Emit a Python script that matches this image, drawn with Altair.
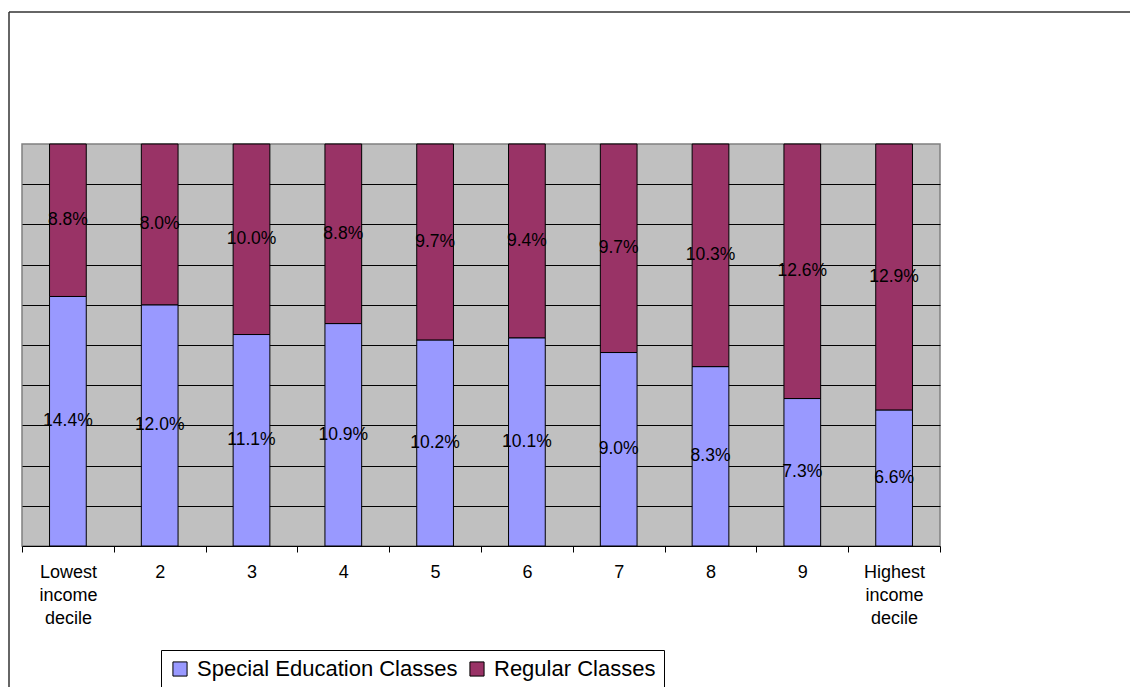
import altair as alt
import pandas as pd

deciles = ["Lowest|income|decile", "2", "3", "4", "5", "6", "7", "8", "9", "Highest|income|decile"]
special_ed = [14.4, 12.0, 11.1, 10.9, 10.2, 10.1, 9.0, 8.3, 7.3, 6.6]
regular = [8.8, 8.0, 10.0, 8.8, 9.7, 9.4, 9.7, 10.3, 12.6, 12.9]
series = ["Special Education Classes", "Regular Classes"]
colors = ["#9999FF", "#993366"]

rows = []
for i, d in enumerate(deciles):
    rows.append({"decile": d, "series": series[0], "order": 0, "value": special_ed[i]})
    rows.append({"decile": d, "series": series[1], "order": 1, "value": regular[i]})
df = pd.DataFrame(rows)

FONT = "Liberation Sans"

base = alt.Chart(df).transform_stack(
    stack="value", groupby=["decile"], as_=["y0", "y1"],
    offset="normalize", sort=[alt.SortField("order", order="ascending")]
).transform_calculate(
    mid="(datum.y0 + datum.y1) / 2",
    label="format(datum.value, '.1f') + '%'"
)

x_enc = alt.X(
    "decile:N", sort=deciles, title=None,
    scale=alt.Scale(paddingInner=0, paddingOuter=0),
    axis=alt.Axis(
        labelAngle=0, labelExpr="split(datum.label, '|')",
        labelFont=FONT, labelFontSize=18, labelColor="black",
        labelLineHeight=23, labelPadding=11, labelBaseline="top",
        tickBand="extent", tickColor="black", tickSize=6,
        domainColor="black", domainWidth=1, grid=False,
    ),
)

bars = base.mark_bar(stroke="black", strokeWidth=1,
                     width=alt.RelativeBandSize(0.4)).encode(
    x=x_enc,
    y=alt.Y("y0:Q", title=None, scale=alt.Scale(domain=[0, 1], nice=False),
            axis=alt.Axis(values=[0.1, 0.2, 0.3, 0.4, 0.5, 0.6, 0.7, 0.8, 0.9],
                          labels=False, ticks=False, domain=False, grid=True,
                          gridColor="black", gridWidth=1, gridOpacity=1)),
    y2="y1:Q",
    color=alt.Color("series:N", title=None,
                    scale=alt.Scale(domain=series, range=colors),
                    legend=alt.Legend(orient="none", legendX=139, legendY=506,
                                      direction="horizontal",
                                      symbolType="square", symbolSize=200,
                                      symbolStrokeColor="black", symbolStrokeWidth=1,
                                      labelFont=FONT, labelFontSize=22,
                                      labelColor="black", labelLimit=0,
                                      labelOffset=6, columnPadding=8,
                                      padding=8, strokeColor="black",
                                      fillColor="white")),
)

labels = base.mark_text(font=FONT, fontSize=17.5, color="black").encode(
    x=alt.X("decile:N", sort=deciles),
    y=alt.Y("mid:Q"),
    text="label:N",
)

# outer frame (top and left edges)
frame_top = alt.Chart(pd.DataFrame({"k": [0]})).mark_rule(
    color="#333333", strokeWidth=1.5).encode(
    x=alt.value(-13), x2=alt.value(1120), y=alt.value(-132))
frame_left = alt.Chart(pd.DataFrame({"k": [0]})).mark_rule(
    color="#333333", strokeWidth=1.5).encode(
    x=alt.value(-13), y=alt.value(-132), y2=alt.value(560))

chart = alt.layer(bars, labels, frame_top, frame_left).properties(
    width=918, height=402,
    autosize=alt.AutoSizeParams(type="none"),
    padding={"left": 22, "top": 144, "right": 190, "bottom": 141},
    background="white",
).configure_view(
    fill="#C0C0C0", stroke="#808080", strokeWidth=1.5
)

chart.save("out.html", embed_options={"renderer": "svg", "actions": False})
